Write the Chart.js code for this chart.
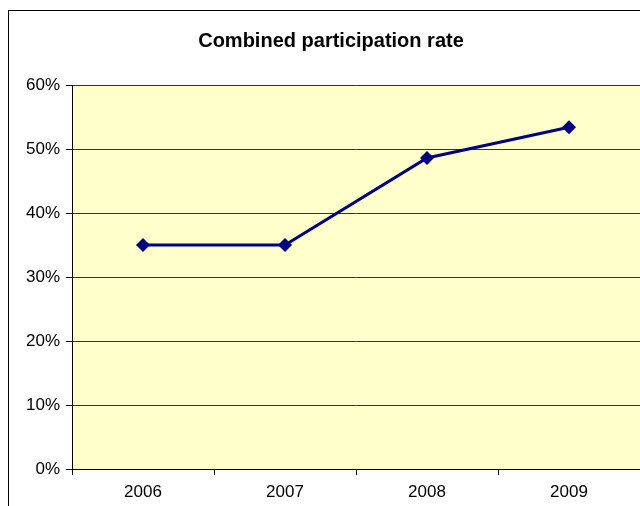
<!DOCTYPE html>
<html>
<head>
<meta charset="utf-8">
<script src="https://cdn.jsdelivr.net/npm/chart.js@4"></script>
<style>
  html, body { margin: 0; padding: 0; background: #fff; overflow: hidden; }
  #wrap { width: 640px; height: 506px; overflow: hidden; }
</style>
</head>
<body>
<div id="wrap"><canvas id="grafik" width="647" height="506"></canvas></div>
<script>
const years = ['2006', '2007', '2008', '2009'];
const rates = [35.0, 35.0, 48.6, 53.4];
const yMin = 0;
const yMax = 60;
const yStep = 10;

// yellow plot area + outer chart frame
const bgPlugin = {
    id: 'bg',
    beforeDraw(chart) {
        const a = chart.chartArea;
        const c = chart.ctx;
        c.save();
        c.fillStyle = '#FFFFCC';
        c.fillRect(a.left, a.top, a.right - a.left, a.bottom - a.top);
        c.restore();
    },
    afterDraw(chart) {
        const c = chart.ctx;
        c.save();
        c.strokeStyle = '#000';
        c.lineWidth = 1;
        c.strokeRect(8.5, 10.5, 700, 600);
        c.restore();
    }
};

const ctx = document.getElementById('grafik');
new Chart(ctx, {
    type: 'line',
    data: {
        labels: years,
        datasets: [{
            label: 'Combined participation rate',
            data: rates,
            borderColor: '#000080',
            backgroundColor: '#000080',
            borderWidth: 3,
            pointStyle: 'rectRot',
            pointRadius: 7,
            pointBorderWidth: 0,
            pointBackgroundColor: '#000080',
            tension: 0
        }]
    },
    options: {
        responsive: false,
        animation: false,
        layout: { padding: { left: 15, right: 0, top: 1, bottom: 0 } },
        plugins: {
            legend: { display: false },
            tooltip: { enabled: false },
            title: {
                display: true,
                text: 'Combined participation rate',
                color: '#000',
                font: { family: 'Liberation Sans, Arial, sans-serif', size: 20, weight: 'bold' },
                padding: { top: 28, bottom: 32 }
            }
        },
        scales: {
            x: {
                offset: true,
                grid: {
                    offset: true,
                    drawOnChartArea: false,
                    drawTicks: true,
                    tickLength: 6,
                    color: '#000'
                },
                border: { display: true, color: '#000', width: 1 },
                ticks: {
                    color: '#000',
                    padding: 7,
                    font: { family: 'Liberation Sans, Arial, sans-serif', size: 17 }
                },
                afterFit(scale) { scale.height = 37; }
            },
            y: {
                min: yMin,
                max: yMax,
                grid: {
                    color: '#333',
                    tickLength: 6,
                    tickColor: '#000'
                },
                border: { display: true, color: '#000', width: 1 },
                ticks: {
                    stepSize: yStep,
                    color: '#000',
                    padding: 6,
                    font: { family: 'Liberation Sans, Arial, sans-serif', size: 17 },
                    callback: (v) => v + '%'
                },
                afterFit(scale) { scale.width = 57; }
            }
        }
    },
    plugins: [bgPlugin]
});
</script>
</body>
</html>
